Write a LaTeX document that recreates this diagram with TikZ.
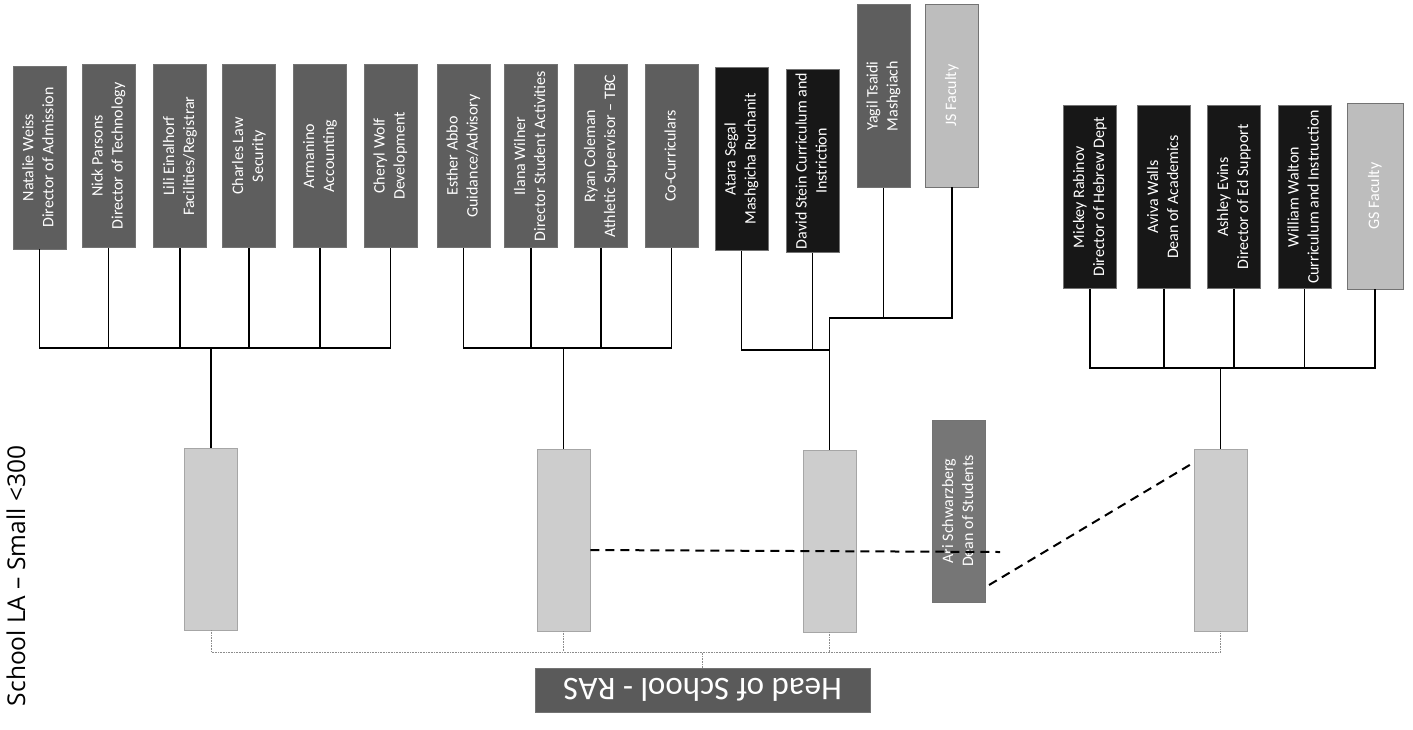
\documentclass[tikz,border=0pt]{standalone}
\usepackage{fontspec}
\usepackage{graphicx}
\setmainfont{Carlito}
\newfontfamily\titlefont{Open Sans}
\newcommand\vt[1]{\rotatebox{90}{\begin{tabular}{@{}c@{}}#1\end{tabular}}}
\definecolor{dgrey}{HTML}{5E5E5E}
\definecolor{blk}{HTML}{171717}
\definecolor{lgrey}{HTML}{BDBDBD}
\definecolor{mgrey}{HTML}{CDCDCD}
\definecolor{hgrey}{HTML}{5A5A5A}
\begin{document}
\begin{tikzpicture}[x=1pt,y=-1pt,
  box/.style={draw=black!55, line width=0.5pt, minimum width=53pt, minimum height=183pt,
    inner sep=0pt, text=white, font=\fontsize{16}{20}\selectfont},
  darkbox/.style={box, fill=dgrey},
  blackbox/.style={box, fill=blk},
  lightbox/.style={box, fill=lgrey},
  midbox/.style={box, fill=mgrey, draw=black!35, minimum height=182pt},
  link/.style={draw=black, line width=1.1pt},
  dotlink/.style={draw=black!45, line width=0.6pt, densely dotted},
  dashlink/.style={draw=black, line width=2pt, dash pattern=on 9pt off 6pt}]
\useasboundingbox (0,0) rectangle (1413,729);

% top row, left group
\node[darkbox] (t1) at (39.5,157.5) {\vt{Natalie Weiss\\Director of Admission}};
\node[darkbox] (t2) at (108.5,156) {\vt{Nick Parsons\\Director of Technology}};
\node[darkbox] (t3) at (180,156) {\vt{Lili Einalhorf\\Facilities/Registrar}};
\node[darkbox] (t4) at (249,156) {\vt{Charles Law\\Security}};
\node[darkbox] (t5) at (320,156) {\vt{Armanino\\Accounting}};
\node[darkbox] (t6) at (390.5,156) {\vt{Cheryl Wolf\\Development}};
% middle group
\node[darkbox] (t7) at (463.5,156) {\vt{Esther Abbo\\Guidance/Advisory}};
\node[darkbox] (t8) at (531,156) {\vt{Ilana Wilner\\Director Student Activities}};
\node[darkbox] (t9) at (601,156) {\vt{Ryan Coleman\\Athletic Supervisor – TBC}};
\node[darkbox] (t10) at (671.5,156) {\vt{Co-Curriculars}};
% JS group
\node[blackbox] (t11) at (741.5,159) {\vt{Atara Segal\\Mashgicha Ruchanit}};
\node[blackbox] (t12) at (812.5,161) {\vt{David Stein Curriculum and\\Instriction}};
\node[darkbox] (t13) at (883.5,96) {\vt{Yagil Tsaidi\\Mashgiach}};
\node[lightbox] (t14) at (952,95.5) {\vt{JS Faculty}};
% right group
\node[blackbox] (r1) at (1090,197) {\vt{Mickey Rabinov\\Director of Hebrew Dept}};
\node[blackbox] (r2) at (1164,197) {\vt{Aviva Walls\\Dean of Academics}};
\node[blackbox] (r3) at (1234,197) {\vt{Ashley Evins\\Director of Ed Support}};
\node[blackbox] (r4) at (1304.5,197) {\vt{William Walton\\Curriculum and Instruction}};
\node[lightbox, minimum width=56pt, minimum height=186pt] (r5) at (1375,196) {\vt{GS Faculty}};

% middle row
\node[midbox] (mA) at (211,539) {};
\node[midbox] (mB) at (563.5,540) {};
\node[midbox] (mC) at (829.5,541) {};
\node[box, fill=dgrey!85, minimum height=182pt] (dean) at (959,511) {\vt{Ari Schwarzberg\\Dean of Students}};
\node[midbox] (mE) at (1220.5,540) {};

% head
\node[box, fill=hgrey, minimum width=335pt, minimum height=44pt, font=\fontsize{33}{36}\selectfont] (head) at (702.5,690) {\rotatebox{180}{Head of School - RAS}};

% title
\node[font=\titlefont\fontsize{24.5}{27}\selectfont, text=black, rotate=90, inner sep=0pt] (title) at (16,576) {School LA – Small <300};

% left group connectors
\coordinate (b1) at (0,348);
\draw[link] (t1.south) -- (t1.south |- b1) -- (t6.south |- b1) -- (t6.south);
\foreach \n in {t2,t3,t4,t5} \draw[link] (\n.south) -- (\n.south |- b1);
\draw[link] (mA.north) -- (mA.north |- b1);
% middle group connectors
\draw[link] (t7.south) -- (t7.south |- b1) -- (t10.south |- b1) -- (t10.south);
\foreach \n in {t8,t9} \draw[link] (\n.south) -- (\n.south |- b1);
\draw[link] (mB.north) -- (mB.north |- b1);
% JS group connectors
\coordinate (b2) at (0,350);
\coordinate (b3) at (0,318);
\draw[link] (t11.south) -- (t11.south |- b2) -- (mC.north |- b2);
\draw[link] (t12.south) -- (t12.south |- b2);
\draw[link] (t13.south) -- (t13.south |- b3);
\draw[link] (t14.south) -- (t14.south |- b3) -- (mC.north |- b3) -- (mC.north);
% right group connectors
\coordinate (b4) at (0,368);
\draw[link] (r1.south) -- (r1.south |- b4) -- (r5.south |- b4) -- (r5.south);
\foreach \n in {r2,r3,r4} \draw[link] (\n.south) -- (\n.south |- b4);
\draw[link] (mE.north) -- (mE.north |- b4);

% bottom dotted bus
\coordinate (b5) at (0,652);
\draw[dotlink] (mA.south) -- (mA.south |- b5) -- (mE.south |- b5) -- (mE.south);
\draw[dotlink] (mB.south) -- (mB.south |- b5);
\draw[dotlink] (mC.south) -- (mC.south |- b5);
\draw[dotlink] (head.north) -- (head.north |- b5);

% dashed links
\coordinate (d1) at (1000,552);
\draw[dashlink] ([yshift=-10pt]mB.east) -- (d1);
\coordinate (d2) at (989,585);
\coordinate (d3) at (1193,463);
\draw[dashlink] (d2) -- (d3);
\end{tikzpicture}
\end{document}
